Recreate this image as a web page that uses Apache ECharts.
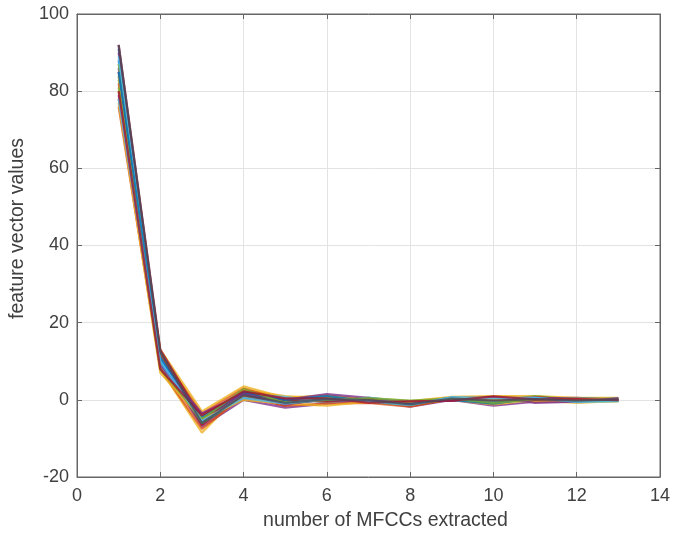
<!DOCTYPE html>
<html>
<head>
<meta charset="utf-8">
<script src="https://cdn.jsdelivr.net/npm/echarts@6/dist/echarts.min.js"></script>
<style>
  html, body { margin: 0; padding: 0; background: #fff; }
  #chart { width: 675px; height: 534px; }
</style>
</head>
<body>
<div id="chart"></div>
<script>
// coefficient index 1..13
const coefIndex = [1, 2, 3, 4, 5, 6, 7, 8, 9, 10, 11, 12, 13]

// one array per frame
const frameB1 = [91, 12, -5, 1.5, -0.5, 0.5, -0.5, -1.5, 0.2, -0.5, 0, -0.5, 0]
const frameO1 = [78, 9, -6.5, 2.5, 0.5, -0.5, 0.3, -1.2, 0.5, 0.8, 0.5, 0.2, 0.3]
const frameY1 = [80, 8, -8.5, 2.5, 1, 0.3, 0.5, -0.3, 0.8, 1, 1, 0.5, 0.5]
const frameP1 = [90, 11, -7, 0, -2, -1, 0, -1.8, 0, -1.5, -0.5, -0.2, -0.3]
const frameG1 = [83, 12, -4, 2, 0.3, -0.3, 0.2, -0.7, 0.6, -0.5, 1, 0, -0.1]
const frameC1 = [84, 11, -6, 2, -0.3, 0.6, -0.2, -1, 0.2, 0.2, 0.4, -0.2, 0]
const frameM1 = [85, 12, -6.5, 0.8, -1.5, 1, 0, -1.6, 0.2, -1, 0.7, 0, 0.2]
const frameB2 = [88, 11, -6, 0.5, -1, 0, 0, -1, 0.5, 0.5, -0.5, 0, 0.3]
const frameO2 = [82, 12, -3.5, 3, 0, 0.5, 0, -0.5, -0.2, -0.3, 0.8, -0.5, 0]
const frameY2 = [84, 13, -3, 3.5, 0.5, 1.2, 0, -1, 0, -1.2, 0, -0.8, -0.3]
const frameP2 = [86, 10, -5.5, 1, 0, 1.5, 0.5, -1, 0.5, 0, 0.3, 0.5, 0]
const frameG2 = [87, 10, -6, 1, -0.5, 0.8, -0.6, -1.3, 0.1, 0.6, 0, 0.4, 0.2]
const frameC2 = [89, 9, -4.5, 1.5, 0.8, -0.8, 0.6, -0.6, -0.1, -0.4, -0.3, 0.3, 0.1]
const frameM2 = [92, 13, -5, 1.8, 0, -0.5, 0.3, -0.9, 0.4, 0.2, -0.4, -0.4, 0]
const frameB3 = [85, 10, -4.5, 2, 0, 1, -0.3, -0.8, 0, -1, 0.5, -0.3, -0.2]
const frameO3 = [76, 8, -7.5, 1, -1.5, -1, -0.8, -1.8, 0.3, 0, -0.2, 0.3, -0.2]
const frameY3 = [77, 7, -5, 0, -1, -1.5, -0.5, -0.5, 0.4, 0.3, -0.6, 0, 0.2]
const frameP3 = [79, 9, -3.5, 1.5, -1.2, 0.2, -0.2, -0.3, -0.3, 0.8, -0.8, -0.5, 0.4]
const frameG3 = [81, 8, -5, 2.8, -0.8, 0, 0.4, -0.2, 0.3, -0.8, 0.2, -0.3, -0.4]
const frameC3 = [78, 10, -5.5, 0.5, -1, 0.3, -0.4, -1.4, 0.7, 0.4, 0.6, -0.6, -0.3]
const frameM3 = [80, 8, -4, 2.2, 0.4, 0.4, -0.7, -0.4, -0.2, 0.9, 0.1, 0.2, -0.1]
const frameK1 = [92, 12.5, -6, 1.2, -0.8, 0.2, -0.1, -1.2, 0.3, -0.2, 0.2, -0.2, 0.1]

const frames = [
  frameB1, frameO1, frameY1, frameP1, frameG1, frameC1, frameM1,
  frameB2, frameO2, frameY2, frameP2, frameG2, frameC2, frameM2,
  frameB3, frameO3, frameY3, frameP3, frameG3, frameC3, frameM3,
  frameK1
]

const xTicks = [0, 2, 4, 6, 8, 10, 12, 14]
const yTicks = [-20, 0, 20, 40, 60, 80, 100]

// matlab default color order, last one a dark line on top
const lineColors = ['#0072BD', '#D95319', '#EDB120', '#7E2F8E', '#77AC30', '#4DBEEE', '#A2142F']
const topColor = '#4a4a5a'

const textColor = '#404040'
const font = 'Liberation Sans, Arial, sans-serif'

let myChart = echarts.init(document.getElementById('chart'))

let series = frames.map(function (f, i) {
  let c = i < 21 ? lineColors[i % lineColors.length] : topColor
  return {
    type: 'line',
    data: coefIndex.map(function (x, j) { return [x, f[j]] }),
    symbol: 'none',
    silent: true,
    lineStyle: { width: 2.2, color: c, opacity: 0.8 }
  }
})

let axisCommon = {
  type: 'value',
  axisLine: { show: true, onZero: false, lineStyle: { color: '#666', width: 1 } },
  axisTick: { show: true, inside: true, length: 5, lineStyle: { color: '#666' } },
  splitLine: { show: false }
}

let options = {
  animation: false,
  grid: {
    left: 77,
    right: 15,
    top: 14,
    bottom: 57,
    containLabel: false,
    outerBoundsMode: 'none',
    show: true,
    borderColor: '#666',
    borderWidth: 1
  },
  xAxis: [
    Object.assign({}, axisCommon, {
      min: xTicks[0],
      max: xTicks[xTicks.length - 1],
      interval: 2,
      position: 'bottom',
      name: 'number of MFCCs extracted',
      nameLocation: 'middle',
      nameGap: 34,
      nameTextStyle: { color: textColor, fontSize: 19.5, fontFamily: font, padding: [0, 0, 0, 34] },
      axisLabel: { color: textColor, fontSize: 18, fontFamily: font, margin: 10 },
      splitLine: { show: true, lineStyle: { color: '#e3e3e3', width: 1 } }
    }),
    Object.assign({}, axisCommon, {
      min: xTicks[0],
      max: xTicks[xTicks.length - 1],
      interval: 2,
      position: 'top',
      axisLabel: { show: false }
    })
  ],
  yAxis: [
    Object.assign({}, axisCommon, {
      min: yTicks[0],
      max: yTicks[yTicks.length - 1],
      interval: 20,
      position: 'left',
      name: 'feature vector values',
      nameLocation: 'middle',
      nameGap: 40,
      nameTextStyle: { color: textColor, fontSize: 19.5, fontFamily: font, padding: [0, 0, 0, 34] },
      axisLabel: { color: textColor, fontSize: 18, fontFamily: font, margin: 8 },
      splitLine: { show: true, lineStyle: { color: '#e3e3e3', width: 1 } }
    }),
    Object.assign({}, axisCommon, {
      min: yTicks[0],
      max: yTicks[yTicks.length - 1],
      interval: 20,
      position: 'right',
      axisLabel: { show: false }
    })
  ],
  series: series
}

myChart.setOption(options)
</script>
</body>
</html>
